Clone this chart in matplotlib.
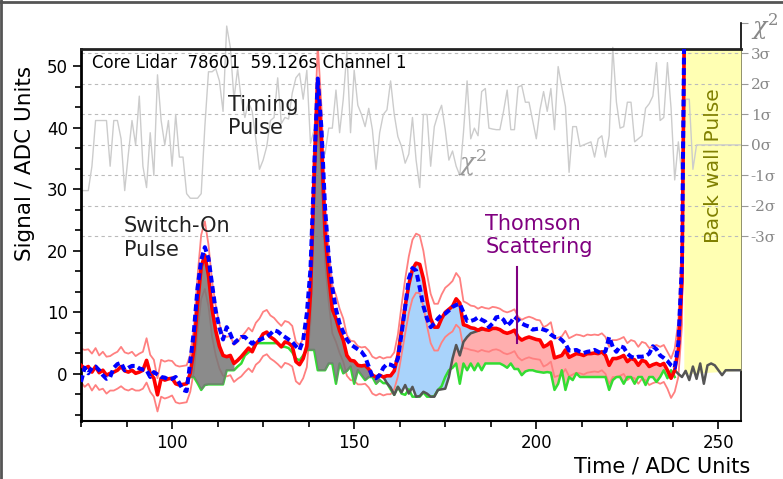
import matplotlib
matplotlib.use("Agg")
import matplotlib.pyplot as plt
import numpy as np
from matplotlib.ticker import MultipleLocator
from matplotlib.lines import Line2D

plt.rcParams['mathtext.fontset'] = 'dejavuserif'

# ---- data (ADC samples, one per unit) ----
t0 = 75
signal = [1.4, 0.9, 1.2, 0.3, 1.2, 0.2, 0.6, -0.2, 0.1, 0.3,
          0.6, 1.2, 0.5, 0.3, 0.6, 0.1, 0.3, 0.6, 2.2, 0.1,
          -0.7, -3.4, -0.7, -1.0, -0.8, -0.7, -1.6, -1.8, -1.7, -1.6,
          0.1, 4.0, 11.4, 17.4, 19.3, 16.0, 10.5, 7.0, 4.5, 3.0,
          2.8, 3.0, 1.7, 2.2, 2.8, 3.5, 4.2, 3.6, 4.9, 5.5,
          6.5, 6.8, 6.0, 5.6, 5.0, 4.4, 5.2, 5.0, 4.5, 2.0,
          1.5, 2.5, 4.5, 13.0, 32.0, 47.5, 38.0, 23.0, 16.0, 10.5,
          9.0, 7.0, 5.5, 3.0, 2.2, 2.1, 1.4, 1.3, 1.4, 0.8,
          -0.2, -0.5, -0.2, -0.5, -0.3, -0.3, 0.5, 3.0, 7.1, 11.0,
          14.5, 17.0, 18.0, 17.8, 15.5, 12.0, 9.0, 7.6, 7.6, 9.0,
          10.0, 10.5, 11.0, 12.2, 11.5, 8.0, 7.8, 7.5, 7.4, 7.1,
          7.4, 7.2, 7.1, 7.4, 7.4, 7.2, 6.8, 6.6, 6.8, 7.1,
          6.0, 5.5, 5.8, 6.0, 5.8, 5.6, 5.5, 4.4, 4.7, 5.2,
          2.6, 2.8, 3.0, 3.9, 2.7, 3.0, 3.3, 3.2, 3.0, 3.3,
          3.3, 3.4, 3.3, 3.6, 3.0, 1.4, 2.5, 2.5, 2.7, 3.0,
          2.0, 2.5, 2.3, 1.4, 2.2, 2.0, 1.2, 1.5, 1.7, 1.4,
          1.7, 0.6, -0.7, 0.6, 4.0, 15.0, 80.0]

fit = [-1.3, 1.0, 0.1, 1.0, 1.2, 0.6, -0.2, -0.8, -0.5, 1.0,
       1.6, 1.8, 0.6, 1.0, 1.3, 1.3, 0.9, 0.7, 0.6, -0.5,
       0.3, -0.1, -0.5, -0.6, -0.9, -0.8, -0.5, -1.5, -2.6, -2.8,
       2.0, 7.0, 14.0, 18.5, 20.6, 18.8, 14.5, 10.2, 7.5, 5.6,
       7.6, 6.5, 5.0, 5.5, 6.0, 6.0, 5.4, 4.9, 5.5, 5.5,
       5.8, 6.0, 6.5, 7.1, 6.9, 6.4, 6.0, 5.6, 5.2, 4.5,
       3.9, 5.5, 9.8, 17.0, 33.0, 48.0, 40.0, 27.0, 19.0, 14.0,
       10.5, 8.2, 6.8, 5.6, 4.8, 4.4, 4.0, 3.6, 2.8, 1.2,
       -0.5, -0.7, -0.2, 1.0, 1.6, 1.5, 1.2, 2.5, 6.5, 10.9,
       15.5, 17.2, 16.8, 14.0, 11.0, 9.0, 7.6, 8.2, 9.0, 9.6,
       9.8, 10.3, 10.9, 11.2, 11.4, 10.0, 8.6, 8.6, 8.8, 9.2,
       8.8, 8.5, 7.6, 8.2, 9.2, 9.3, 8.8, 7.8, 8.4, 9.3,
       8.8, 8.2, 7.9, 7.7, 7.2, 7.3, 7.4, 7.2, 7.0, 6.4,
       6.0, 6.0, 5.5, 4.9, 3.8, 3.8, 3.9, 3.6, 3.4, 3.6,
       3.7, 3.9, 3.6, 3.3, 3.7, 6.0, 4.4, 3.6, 4.5, 4.3,
       3.3, 2.8, 2.6, 2.8, 2.8, 2.9, 3.3, 4.5, 4.0, 3.0,
       2.6, 2.1, 1.4, 1.0, 5.0, 18.0, 80.0]

err = [2.7, 3.0, 2.8, 3.0, 3.0, 2.8, 3.0, 3.0, 2.8, 3.0,
       3.0, 3.2, 3.0, 3.0, 3.0, 2.8, 3.0, 3.0, 3.6, 3.0,
       3.0, 2.7, 3.0, 3.0, 3.0, 2.8, 3.0, 3.0, 3.0, 3.0,
       3.0, 3.5, 4.5, 5.2, 5.5, 5.0, 4.5, 4.0, 3.6, 3.3,
       3.2, 3.2, 3.0, 3.0, 3.2, 3.2, 3.3, 3.3, 3.4, 3.5,
       3.6, 3.6, 3.5, 3.5, 3.4, 3.4, 3.4, 3.4, 3.3, 3.2,
       3.2, 3.2, 3.4, 4.5, 5.5, 6.0, 5.6, 4.8, 4.3, 3.9,
       3.8, 3.6, 3.5, 3.3, 3.2, 3.2, 3.1, 3.0, 3.0, 3.0,
       3.0, 3.0, 3.0, 3.0, 3.0, 3.0, 3.0, 3.4, 4.0, 4.4,
       4.6, 4.8, 4.8, 4.7, 4.5, 4.2, 4.0, 3.8, 3.8, 3.9,
       4.0, 4.0, 4.1, 4.2, 4.1, 3.8, 3.7, 3.6, 3.6, 3.5,
       3.5, 3.5, 3.5, 3.5, 3.4, 3.4, 3.4, 3.4, 3.4, 3.4,
       3.3, 3.3, 3.3, 3.3, 3.3, 3.2, 3.2, 3.2, 3.2, 3.2,
       3.1, 3.1, 3.1, 3.1, 3.1, 3.1, 3.1, 3.1, 3.1, 3.1,
       3.0, 3.0, 3.0, 3.0, 3.0, 3.0, 3.0, 3.0, 3.0, 3.0,
       3.0, 3.0, 3.0, 3.0, 3.0, 3.0, 3.0, 3.0, 3.0, 3.0,
       3.0, 3.0, 3.2, 3.5, 4.5, 7.0, 10.0]

# background level (green line), starts at t=105
bg_t0 = 105
bg = [-0.5, -0.5, -1.5, -2.6, -1.8, -1.7, -1.7, -1.7, -1.7, -1.7,
      0.6, 0.6, 0.6, 1.2, 1.7, 3.0, 3.5, 4.0, 5.0, 5.0,
      5.0, 5.0, 5.0, 5.0, 5.0, 4.4, 4.4, 4.2, 3.5, 2.5,
      2.2, 3.0, 3.9, 3.9, 3.9, 0.6, 0.6, 0.6, 1.7, 1.7,
      -1.6, 1.7, 0.1, 0.5, 1.2, -1.6, 0.6, -0.2, -1.0, -0.5,
      -0.5, -1.6, -1.0, -1.5, -1.5, -2.5, -3.4, -2.1, -3.2, -3.4,
      -2.5, -3.7, -3.7, -3.7, -3.0, -3.7, -3.7, -3.6, -2.6, -2.0,
      -0.5, 0.6, 1.0, 1.7, -1.6, 1.7, 0.6, 1.7, 0.6, 1.7,
      0.6, 1.7, 1.7, 1.7, 1.7, 1.7, 1.4, 1.0, 1.7, 0.8,
      0.8, -0.2, 0.4, 0.6, 0.6, 0.4, 0.3, 0.2, 0.3, 0.2,
      -2.6, -1.6, 0.6, -2.6, -0.5, -1.0, 0.1, -0.5, -0.5, -0.5,
      -0.5, -0.5, -0.5, -0.5, -0.5, -2.6, -1.0, -0.5, -0.5, -1.6,
      -0.5, -0.5, -1.6, -0.5, -0.5, -1.8, -0.5, -0.5, -1.3, -0.5,
      0.6, -0.7, 0.6, -0.5]

# dark grey line under the early Thomson light, starts at t=158
dark_t0 = 158
dark = [-0.5, -1.5, -2.2, -3.4, -2.1, -3.0, -1.8, -3.2, -2.1, -3.7,
        -3.6, -2.9, -3.2, -3.7, -3.7, -2.6, -2.5, -2.4, -0.5, 2.5,
        4.7, 3.0, 5.2, 6.0, 6.6, 6.8, 7.0, 7.2]

# dark grey trace after the back wall, starts at t=238
tail_t0 = 238
tail = [0.6, 0.0, -0.5, 0.5, -1.0, 1.2, -0.8, 1.7, -1.6, 1.4,
        1.7, 1.4, 0.6, -0.2, 0.6, 0.6, 0.6, 0.6, 0.6]

# chi^2 deviation in sigma, t = 75..256
chi = [-1.5, -1.5, -1.5, -0.7, 0.8, 0.8, 0.8, 0.8, -0.7, 0.8,
       0.8, 0.2, -1.5, -0.3, 0.8, 0.0, 1.6, -0.7, -1.4, 0.4,
       -1.0, 2.3, 0.8, 0.0, 0.8, -0.7, 1.0, -0.4, -0.4, -1.6,
       -1.75, -1.75, -1.75, -1.6, 0.6, 2.4, 2.4, 2.5, 2.1, 1.1,
       3.9, 3.2, 1.5, 2.5, 1.5, 0.9, 1.4, 1.1, 0.2, -0.8,
       -0.5, -0.05, 0.8, 0.9, 2.2, 0.7, 0.9, 0.85, 1.7, 2.2,
       2.35, 1.5, 2.45, 0.05, 0.5, 0.15, 0.0, -0.3, 0.55, 0.55,
       1.8, 0.4, 1.5, 3.06, 0.4, 2.45, 1.3, 1.0, 0.6, 1.2,
       0.5, -0.8, 0.4, 1.0, 1.15, 2.1, 1.0, 0.27, -0.05, -0.6,
       -0.3, 0.9, -0.5, -1.4, 1.0, 1.0, -0.7, 0.6, 1.0, 1.3,
       0.5, -0.5, -0.2, -0.7, -1.0, 0.4, 2.1, 0.2, 0.55, 0.3,
       1.75, 1.85, 0.55, 0.52, 0.5, 0.5, 1.1, 1.8, 0.5, 0.5,
       1.9, 1.95, 1.4, 1.4, 0.8, 0.2, 1.15, 1.75, 1.1, 1.85,
       0.5, 2.57, 1.9, 1.26, -0.9, 0.6, 0.6, -0.05, 0.0, 0.05,
       0.1, -0.4, 0.2, 0.3, -0.4, 0.3, 3.2, 1.4, 0.55, 0.6,
       1.4, 1.4, 0.1, 0.2, 0.3, 1.2, 1.35, 1.6, 2.7, 0.8,
       0.9, 2.7, 1.2, -1.15, 0.1, -1.05, 1.5, 1.5, -0.8, 0.0,
       0, 0, 0, 0, 0, 0, 0, 0, 0, 0, 0, 0]

sigma_ticks = [-3, -2, -1, 0, 1, 2, 3, 4]
sigma_labels = ['-3σ', '-2σ', '-1σ', '0σ', '1σ', '2σ', '3σ', r'$\chi^2$']

# regions
switch_on = (105, 117)
timing = (137, 157)
thomson_early = (158, 185)
thomson = (175, 238)
back_wall = [240.5, 256.2]
back_wall_floor = [0.0, 0.6]
thomson_mark_x = 194.7
thomson_mark_y = [5.0, 17.4]

xlim = (75, 256.2)
ylim = (-7.65, 52.8)
slim = (-9.06, 4.0)

# ---- arrays ----
signal = np.array(signal)
fit = np.array(fit)
err = np.array(err)
t = np.arange(t0, t0 + len(signal))
bg_full = np.full(len(t), np.nan)
bg_full[bg_t0 - t0:bg_t0 - t0 + len(bg)] = bg
dark_full = np.full(len(t), np.nan)
dark_full[dark_t0 - t0:dark_t0 - t0 + len(dark)] = dark
t_tail = np.arange(tail_t0, tail_t0 + len(tail))
t_chi = np.arange(t0, t0 + len(chi))

fig = plt.figure(figsize=(7.83, 4.79), dpi=100)
L, R, B, T = 81 / 783, 741 / 783, (479 - 421) / 479, (479 - 49) / 479
T2 = (479 - 23) / 479
ax2 = fig.add_axes([L, B, R - L, T2 - B])
ax = fig.add_axes([L, B, R - L, T - B])
ax.set_zorder(2)
ax2.set_zorder(1)
ax.patch.set_alpha(0)
ax2.patch.set_alpha(0)

ax2.set_xlim(*xlim)
ax2.set_ylim(*slim)
ax.set_xlim(*xlim)
ax.set_ylim(*ylim)

# back wall
ax.fill_between(back_wall, back_wall_floor, ylim[1], color='#ffffb3', lw=0, zorder=0.5)

# chi^2 grid + trace, in sigma coordinates
for k in sigma_ticks[:-1]:
    ax.plot(xlim, [k, k], transform=ax2.transData, color='#bbbbbb',
            lw=0.8, ls=(0, (3, 3)), zorder=0.8)
ax.plot(t_chi, chi, transform=ax2.transData, color='#cccccc', lw=1,
        clip_on=False, zorder=0.9)

# error band lines
ax.plot(t, signal + err, color='#ff8080', lw=1.3, zorder=2)
ax.plot(t, signal - err, color='#ff8080', lw=1.3, zorder=2)

# background lines
ax.plot(t, bg_full, color='#33dd33', lw=1.8, zorder=2.2)
ax.plot(t, dark_full, color='#555555', lw=1.8, zorder=2.3)
ax.plot(t_tail, tail, color='#555555', lw=1.8, zorder=2.3)

# fills
m = (t >= thomson[0]) & (t <= thomson[1])
ax.fill_between(t, signal, bg_full, where=m, color='#ff9a9a', alpha=0.8, lw=0, zorder=1.5)
m = (t >= thomson_early[0]) & (t <= thomson_early[1])
ax.fill_between(t, signal, dark_full, where=m, color='#a9d3fb', lw=0, zorder=1.6)
for a, b in (switch_on, timing):
    m = (t >= a) & (t <= b)
    ax.fill_between(t, signal, bg_full, where=m, color='#777777', alpha=0.85, lw=0, zorder=2.5)

# signal and fit
ax.plot(t, signal, color='red', lw=2.6, zorder=3)
ax.plot(t, fit, color='blue', lw=2.9, dashes=(1.7, 0.9), zorder=3.1)

# annotations
ax.text(78.1, 49.7, 'Core Lidar  78601  59.126s Channel 1', fontsize=12,
        va='baseline', ha='left', zorder=5)
ax.text(115.4, 45.3, 'Timing\nPulse', fontsize=15, color='#222222', va='top', ha='left')
ax.text(86.8, 25.6, 'Switch-On\nPulse', fontsize=15, color='#222222', va='top', ha='left')
ax.text(186.0, 26.0, 'Thomson\nScattering', fontsize=15, color='purple', va='top', ha='left')
ax.plot([thomson_mark_x, thomson_mark_x], thomson_mark_y, color='purple', lw=1.5, zorder=4)
ax.text(178.5, 34.3, r'$\chi^2$', fontsize=18, color='#999999', va='center', ha='left')
ax.text(248.6, 33.9, 'Back wall Pulse', rotation=90, fontsize=14.5, color='#808000',
        ha='center', va='center')

# main axis styling
ax.spines['right'].set_visible(False)
ax.spines['left'].set_linewidth(2)
ax.spines['top'].set_linewidth(2)
ax.spines['top'].set_color('#222222')
ax.spines['bottom'].set_linewidth(1.5)
ax.xaxis.set_major_locator(MultipleLocator(50))
ax.xaxis.set_minor_locator(MultipleLocator(12.5))
ax.yaxis.set_major_locator(MultipleLocator(10))
ax.yaxis.set_minor_locator(MultipleLocator(10 / 3))
ax.tick_params(which='major', direction='out', length=6, width=1.2, labelsize=12, top=False, right=False)
ax.tick_params(which='minor', direction='out', length=4.5, width=1.2, top=False, right=False)

# sigma axis styling
for s in ('left', 'top', 'bottom'):
    ax2.spines[s].set_visible(False)
ax2.spines['right'].set_linewidth(1.2)
ax2.set_xticks([])
ax2.yaxis.tick_right()
ax2.set_yticks(sigma_ticks)
ax2.set_yticklabels(sigma_labels, family='DejaVu Serif')
ax2.tick_params(axis='y', direction='out', length=5, color='#999999',
                labelcolor='#888888', labelsize=11, pad=2)
ax2.get_yticklabels()[-1].set_fontsize(17)

# axis titles
fig.text(25 / 783, 1 - 163 / 479, 'Signal / ADC Units', rotation=90, fontsize=15.5,
         ha='center', va='center')
fig.text(750 / 783, 1 - 466 / 479, 'Time / ADC Units', fontsize=15, ha='right', va='center')

# window frame
fig.add_artist(Line2D([0, 1], [1 - 1.5 / 479, 1 - 1.5 / 479], color='#555555', lw=2))
fig.add_artist(Line2D([1 / 783, 1 / 783], [0, 1], color='#555555', lw=2))

fig.savefig('out.png', dpi=100)
